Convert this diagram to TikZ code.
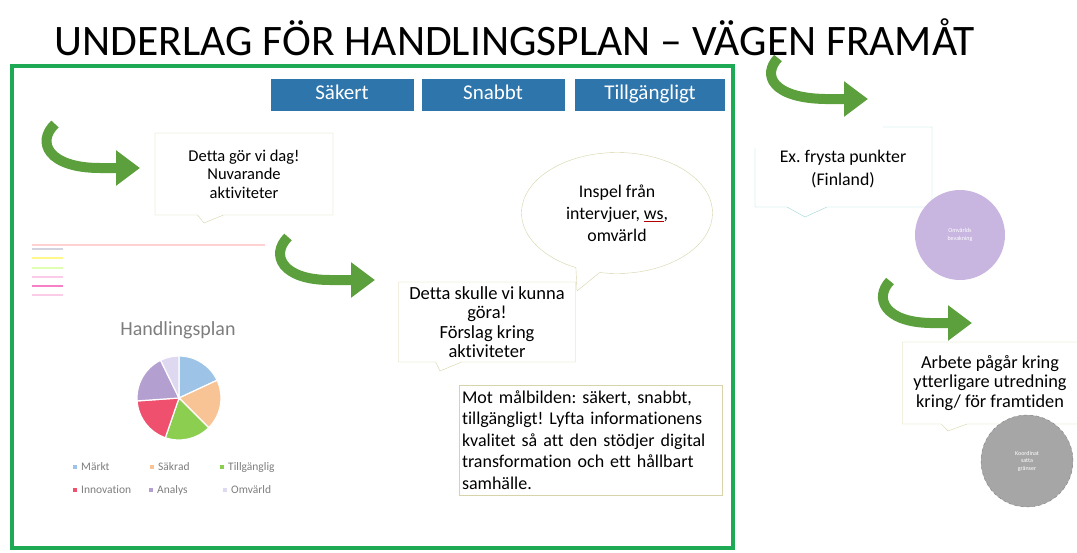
\documentclass[tikz,border=0pt]{standalone}
\usepackage{fontspec}
\setmainfont{Carlito}[Ligatures=NoCommon]
\usetikzlibrary{shapes.callouts,arrows.meta}
\definecolor{framegreen}{RGB}{30,170,85}
\definecolor{arrowgreen}{RGB}{92,160,62}
\definecolor{tagblue}{RGB}{46,117,172}
\definecolor{noteedge}{RGB}{214,212,168}
\definecolor{tealedge}{RGB}{160,214,214}
\definecolor{bevak}{RGB}{200,182,224}
\definecolor{koord}{RGB}{166,166,166}
\definecolor{textgray}{RGB}{125,125,125}
\definecolor{pieblue}{RGB}{157,195,230}
\definecolor{piepeach}{RGB}{248,196,150}
\definecolor{piegreen}{RGB}{140,206,80}
\definecolor{piered}{RGB}{238,80,110}
\definecolor{piepurple}{RGB}{180,160,208}
\definecolor{pielav}{RGB}{222,216,240}
\begin{document}
\frenchspacing
\begin{tikzpicture}[x=1pt,y=-1pt,
    tagbox/.style={fill=tagblue,text=white,minimum width=143pt,minimum height=32pt,text height=12pt,text depth=3pt,font=\fontsize{21}{22}\selectfont},
    note/.style={rectangle callout,draw=noteedge,fill=white,align=center,callout pointer width=26pt,inner sep=2pt},
    curvearrow/.style={draw=arrowgreen,line width=10pt,-{Triangle[length=24pt,width=34pt]}},
    blob/.style={circle,text=white,align=center,font=\fontsize{6}{7.5}\selectfont},
    legendtext/.style={anchor=west,text=textgray,inner sep=1pt,font=\fontsize{11.5}{12}\selectfont}]
  \useasboundingbox (0,0) rectangle (1077,552);
  \node (title) at (515,37) {\fontsize{43.5}{46}\selectfont UNDERLAG FÖR HANDLINGSPLAN – VÄGEN FRAMÅT};
  \draw[framegreen,line width=4pt] (12,66) rectangle (733,548);
  \node[tagbox] (sakert) at (342,95) {Säkert};
  \node[tagbox] (snabbt) at (493,95) {Snabbt};
  \node[tagbox,minimum width=150pt] (tillg) at (650,95) {Tillgängligt};
  \draw[curvearrow] (55,124) .. controls (36,142) and (48,168) .. (100,168) -- (140,168);
  \draw[curvearrow] (288,237) .. controls (270,255) and (282,280) .. (330,280) -- (375,280);
  \draw[curvearrow] (778,58) .. controls (762,75) and (772,98) .. (825,99) -- (868,99);
  \draw[curvearrow] (890,281) .. controls (874,298) and (884,322) .. (930,323) -- (972,323);
  \coordinate (tip1) at (204,223);
  \node[note,minimum width=178pt,minimum height=82pt,callout absolute pointer={(tip1)},
    font=\fontsize{16.5}{18.5}\selectfont] (idag) at (244,174)
    {Detta gör vi dag!\\Nuvarande\\aktiviteter};
  \begin{scope}[line width=2.5pt]
    \draw[red!18] (32,245) -- (265,245);
    \draw[blue!15!gray!30] (32,249) -- (63,249);
    \draw[yellow!45] (32,258) -- (63,258);
    \draw[green!40!yellow!30] (32,268) -- (63,268);
    \draw[magenta!20] (32,277) -- (63,277);
    \draw[magenta!50] (32,286) -- (63,286);
    \draw[magenta!20] (32,295) -- (63,295);
  \end{scope}
  \node[text=textgray,font=\fontsize{20}{22}\selectfont] (plan) at (178,330) {Handlingsplan};
  \begin{scope}[shift={(179,398)},y=1pt]
    \foreach \a/\b/\c in {90/25/pieblue,25/-45/piepeach,-45/-109/piegreen,-109/-176/piered,-176/-244/piepurple,-244/-270/pielav}
      \filldraw[fill=\c,draw=white,line width=1.2pt] (0,0) -- (\a:42) arc[start angle=\a,end angle=\b,radius=42] -- cycle;
  \end{scope}
  \fill[pieblue] (73,465) rectangle +(4,4);   \node[legendtext] (k1) at (80,467) {Märkt};
  \fill[piepeach] (150,465) rectangle +(4,4); \node[legendtext] (k2) at (157,467) {Säkrad};
  \fill[piegreen] (220,465) rectangle +(4,4); \node[legendtext] (k3) at (227,467) {Tillgänglig};
  \fill[piered] (73,488) rectangle +(4,4);    \node[legendtext] (k4) at (80,490) {Innovation};
  \fill[piepurple] (149,488) rectangle +(4,4);\node[legendtext] (k5) at (156,490) {Analys};
  \fill[pielav] (223,488) rectangle +(4,4);   \node[legendtext] (k6) at (230,490) {Omvärld};
  \coordinate (tip2) at (440,371);
  \node[note,minimum width=177pt,minimum height=80pt,callout absolute pointer={(tip2)},
    font=\fontsize{18.5}{19.5}\selectfont] (kunna) at (487,322)
    {Detta skulle vi kunna\\göra!\\Förslag kring\\aktiviteter};
  \coordinate (tip3) at (577,291);
  \node[ellipse callout,draw=noteedge,fill=white,align=center,minimum width=191pt,minimum height=121pt,inner sep=0pt,
    callout absolute pointer={(tip3)},font=\fontsize{17.8}{22}\selectfont] (inspel) at (617,213)
    {Inspel från\\intervjuer, {\color{red!70!black}\underline{\color{black}ws}},\\omvärld};
  \node[draw=noteedge,fill=white,minimum width=263pt,minimum height=110pt,text width=258pt,inner xsep=2pt,align=left,
    font=\fontsize{18}{21.5}\selectfont] (mal) at (591,440)
    {Mot målbilden: säkert, snabbt,\\tillgängligt! Lyfta informationens\\kvalitet så att den stödjer digital\\transformation och ett hållbart\\samhälle.};
  \node[align=center,font=\fontsize{17.8}{23}\selectfont] (frysta) at (843,169) {Ex. frysta punkter\\(Finland)};
  \draw[tealedge] (755,148) -- (755,207) -- (787,207) -- (805,217) -- (827,207) -- (932,207) -- (932,127) -- (883,127);
  \node[blob,fill=bevak,minimum size=90pt] (bevakning) at (960,235) {Omvärlds\\bevakning};
  \coordinate (tip4) at (948,431);
  \node[note,minimum width=175pt,minimum height=82pt,callout absolute pointer={(tip4)},
    font=\fontsize{18.3}{19.5}\selectfont] (arbete) at (990,383)
    {Arbete pågår kring\\ytterligare utredning\\kring/ för framtiden};
  \node[blob,fill=koord,draw=gray,dashed,minimum size=92pt] (koordinat) at (1027,461) {Koordinat\\satta\\gränser};
\end{tikzpicture}
\end{document}
